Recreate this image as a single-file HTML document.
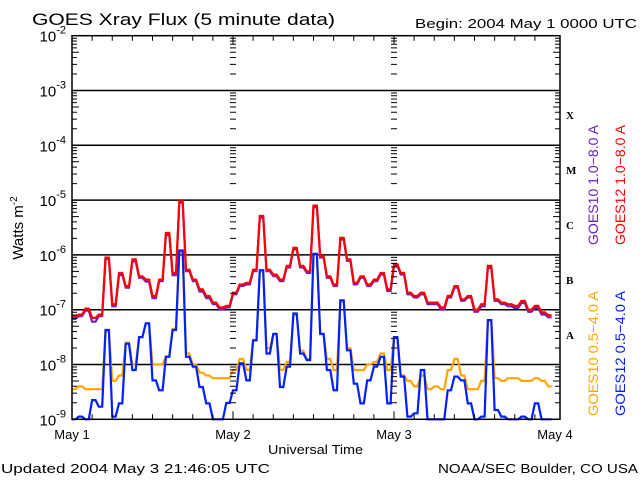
<!DOCTYPE html>
<html><head><meta charset="utf-8"><style>
html,body{margin:0;padding:0;background:#fff;width:640px;height:480px;overflow:hidden}
svg{display:block;font-family:"Liberation Sans",sans-serif}
</style></head><body>
<svg id="chart" width="640" height="480" viewBox="0 0 640 480" xmlns="http://www.w3.org/2000/svg">
<text x="32" y="25" font-size="17" textLength="303" lengthAdjust="spacingAndGlyphs">GOES Xray Flux (5 minute data)</text>
<text x="415" y="28" font-size="13" textLength="222" lengthAdjust="spacingAndGlyphs">Begin:  2004 May 1 0000 UTC</text>
<text transform="translate(23,228) rotate(-90)" text-anchor="middle" font-size="15">Watts m<tspan dy="-6" font-size="10">-2</tspan></text>
<text x="268" y="454" font-size="13" textLength="95" lengthAdjust="spacingAndGlyphs">Universal Time</text>
<text x="1" y="473" font-size="13" textLength="269" lengthAdjust="spacingAndGlyphs">Updated 2004 May  3 21:46:05 UTC</text>
<text x="438" y="473" font-size="13" textLength="200" lengthAdjust="spacingAndGlyphs">NOAA/SEC Boulder, CO USA</text>
<g id="grid"></g><g id="series"></g><g id="axes"></g>
<g font-family="'Liberation Serif',serif" font-weight="bold" font-size="11">
<text x="566" y="119">X</text>
<text x="566" y="174">M</text>
<text x="566" y="229">C</text>
<text x="566" y="284">B</text>
<text x="566" y="339">A</text>
</g>
<g font-size="14">
<text transform="translate(598,245) rotate(-90)" fill="#7020c0" textLength="120" lengthAdjust="spacingAndGlyphs">GOES10 1.0−8.0 A</text>
<text transform="translate(625,245) rotate(-90)" fill="#ff0000" textLength="120" lengthAdjust="spacingAndGlyphs">GOES12 1.0−8.0 A</text>
<text transform="translate(598,416) rotate(-90)" fill="#ffa500" textLength="125" lengthAdjust="spacingAndGlyphs">GOES10 0.5−4.0 A</text>
<text transform="translate(625,416) rotate(-90)" fill="#0020ff" textLength="125" lengthAdjust="spacingAndGlyphs">GOES12 0.5−4.0 A</text>
</g>
</svg>
<script>
const dayLabels=["May 1","May 2","May 3","May 4"];
const decadeExps=[-2,-3,-4,-5,-6,-7,-8,-9];
const goes12Long=[-7.12,-7.09,-6.98,-7.15,-7.09,-6.05,-6.9,-6.33,-6.57,-6.08,-6.39,-6.45,-6.75,-6.45,-5.6,-6.33,-5.02,-6.27,-6.45,-6.63,-6.75,-6.87,-6.96,-6.93,
-6.69,-6.54,-6.51,-6.27,-5.29,-6.27,-6.36,-6.45,-6.2,-5.87,-6.2,-6.3,-5.1,-6.02,-6.39,-6.54,-5.69,-6.08,-6.51,-6.39,-6.54,-6.45,-6.33,-6.63,
-6.17,-6.33,-6.69,-6.75,-6.69,-6.87,-6.87,-6.96,-6.75,-6.57,-6.81,-6.75,-7.0,-6.9,-6.2,-6.81,-6.87,-6.9,-6.93,-6.84,-7.0,-6.93,-7.05,-7.1];
const goes10Long=[-7.15,-7.1,-7.0,-7.2,-7.1,-6.06,-6.92,-6.35,-6.58,-6.1,-6.4,-6.47,-6.77,-6.46,-5.62,-6.35,-5.03,-6.28,-6.46,-6.65,-6.77,-6.88,-6.98,-6.94,
-6.7,-6.55,-6.52,-6.28,-5.3,-6.28,-6.37,-6.46,-6.21,-5.88,-6.21,-6.31,-5.11,-6.03,-6.4,-6.55,-5.7,-6.09,-6.52,-6.4,-6.55,-6.46,-6.34,-6.64,
-6.18,-6.34,-6.7,-6.76,-6.7,-6.88,-6.88,-6.98,-6.76,-6.58,-6.82,-6.76,-7.02,-6.92,-6.22,-6.82,-6.88,-6.92,-6.95,-6.86,-7.02,-6.95,-7.07,-7.12];
const goes12Short=[-9,-8.95,-9,-8.65,-8.77,-7.37,-8.95,-8.71,-7.62,-8.1,-7.5,-7.25,-8.29,-8.47,-7.86,-7.37,-5.92,-7.86,-8.04,-8.41,-8.71,-9,-9,-8.7,
-8.47,-7.98,-8.29,-7.56,-6.28,-7.8,-7.44,-8.41,-8.04,-7.07,-7.8,-7.92,-5.98,-7.44,-8.1,-8.47,-6.83,-7.74,-8.35,-8.71,-8.29,-8.04,-7.86,-8.71,
-7.5,-8.22,-8.95,-8.89,-8.1,-9,-9,-9,-8.47,-8.22,-8.29,-8.71,-9,-8.95,-7.19,-8.83,-8.95,-9,-9,-8.95,-9,-8.71,-9,-9];
const goes10Short=[-8.45,-8.4,-8.45,-8.45,-8.45,-7.4,-8.3,-8.2,-7.6,-8.0,-7.5,-7.25,-8.0,-8.0,-7.85,-7.35,-5.95,-7.8,-8.0,-8.15,-8.2,-8.25,-8.25,-8.25,
-8.1,-7.9,-8.1,-7.55,-6.3,-7.7,-7.45,-8.1,-7.95,-7.1,-7.75,-7.9,-6.0,-7.45,-7.9,-8.1,-6.85,-7.7,-8.1,-8.1,-8.0,-7.95,-7.8,-8.1,
-7.5,-8.2,-8.3,-8.4,-8.2,-8.45,-8.4,-8.45,-8.1,-7.9,-8.2,-8.45,-8.45,-8.3,-7.2,-8.25,-8.3,-8.25,-8.25,-8.3,-8.3,-8.25,-8.3,-8.4];

const NS="http://www.w3.org/2000/svg";
const L=72,R=560,T=35.7,B=419.3,dayW=161;
const xH=h=>L+h*dayW/24;
const yL=v=>T+(-2-v)*(B-T)/7;
function mk(tag,attrs,parent){const e=document.createElementNS(NS,tag);for(const k in attrs)e.setAttribute(k,attrs[k]);parent.appendChild(e);return e;}
const grid=document.getElementById('grid'),axes=document.getElementById('axes'),ser=document.getElementById('series');
decadeExps.forEach(ex=>{
  const y=yL(ex);
  if(ex>-9&&ex<-2){const ln=mk('line',{x1:L,x2:R,y1:y,y2:y,stroke:'#000','stroke-width':1.5},grid);
  
  }
  const t=mk('text',{x:66,y:y+6,'text-anchor':'end','font-size':15},axes);
  
  
  t.textContent='10';
  const s=document.createElementNS(NS,'tspan');s.setAttribute('dy','-8');s.setAttribute('font-size','11');s.textContent=String(ex);t.appendChild(s);
});
let d='';
for(let ex=-9;ex<-2;ex++){for(let m=2;m<10;m++){const y=yL(ex+Math.log10(m));const len=m===5?7:5;
  d+=`M${L} ${y}h${len}M${R} ${y}h${-len}`;
  for(let k=1;k<3;k++){const x=L+k*dayW;d+=`M${x-3} ${y}h6`;}
}}
for(let h=3;h<72;h+=3){const x=xH(h);const len=h%24===0?8:5;d+=`M${x} ${B}v${-len}M${x} ${T}v${len}`;}
const tk=mk('path',{d:d,stroke:'#000','stroke-width':1,fill:'none'},axes);


const fr=mk('rect',{x:L,y:T,width:R-L,height:B-T,fill:'none',stroke:'#000','stroke-width':1.5},axes);


dayLabels.forEach((lb,i)=>{const t=mk('text',{x:L+i*dayW,y:439,'text-anchor':'middle','font-size':13},axes);
  
  
  t.textContent=lb;});
function line(arr,color,off,name){
  let pts=[];
  arr.forEach((v,i)=>{const y=(Math.min(yL(Math.max(v,-9)),B)+off).toFixed(1);
    pts.push(`${xH(i).toFixed(1)},${y}`);pts.push(`${(xH(i)+dayW/24*0.5).toFixed(1)},${y}`);});
  const p=mk('polyline',{points:pts.join(' '),fill:'none',stroke:color,'stroke-width':2.2,'stroke-linejoin':'miter'},ser);
  
  
}
line(goes10Short,'#ffa500',0,'goes10-short-line');
line(goes12Short,'#0020ff',0,'goes12-short-line');
line(goes10Long,'#7020c0',1,'goes10-long-line');
line(goes12Long,'#ff0000',0,'goes12-long-line');
</script>
</body></html>
